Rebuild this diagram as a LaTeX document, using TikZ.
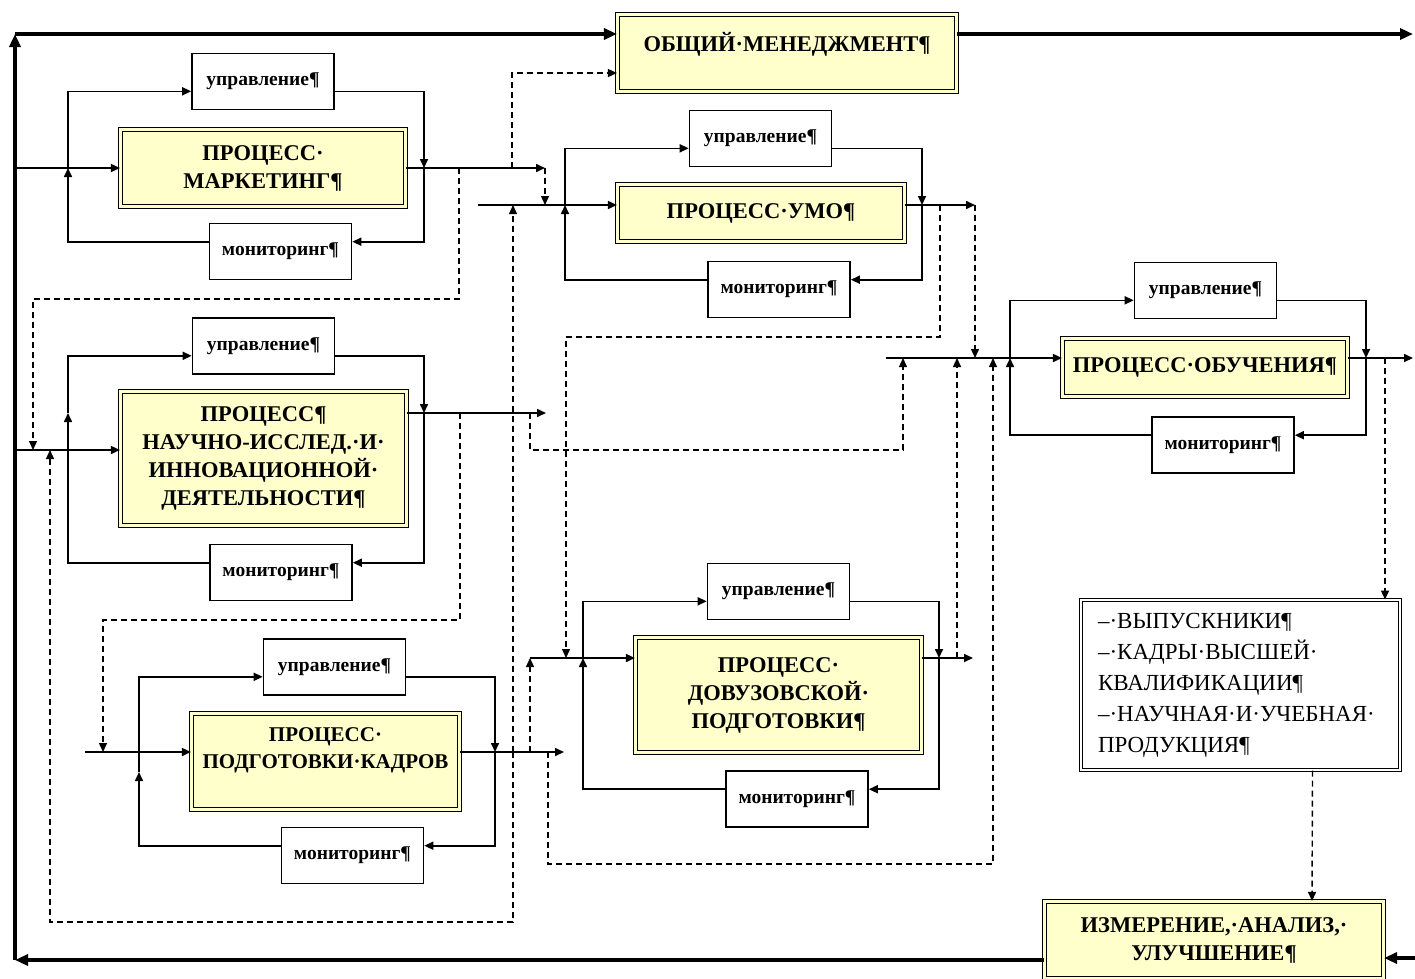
\documentclass[tikz,border=0pt]{standalone}
\usepackage{fontspec}
\setmainfont{Liberation Serif}
\usepackage{tikz}
\usetikzlibrary{arrows.meta, positioning, calc}
\definecolor{procfill}{RGB}{255,255,204}
\tikzstyle{process} = [rectangle, draw=black, line width=1.1pt, double=procfill, double distance=2.4pt, fill=procfill, align=center, inner sep=3pt, font=\fontsize{22.5}{28}\selectfont\bfseries]
\tikzstyle{ctrl} = [rectangle, draw=black, line width=1.6pt, fill=white, minimum width=142pt, minimum height=56pt, font=\fontsize{19.5}{22}\selectfont\bfseries]
\tikzstyle{result} = [rectangle, draw=black, line width=1pt, double=white, double distance=2pt, fill=white, align=left, text width=285pt, inner xsep=17pt, minimum height=170pt, font=\fontsize{23}{31}\selectfont]
\tikzstyle{flow} = [line width=1.6pt, -{Triangle[length=9pt, width=8pt]}]
\tikzstyle{dflow} = [line width=1.4pt, dash pattern=on 6pt off 4pt, -{Triangle[length=9pt, width=8pt]}]
\tikzstyle{frame} = [line width=4pt, -{Triangle[length=13pt, width=11pt]}]

\begin{document}
\begin{tikzpicture}[x=1pt, y=-1pt]
\useasboundingbox (0,0) rectangle (1415,978);
\coordinate (tl) at (15,34);
\coordinate (bl) at (15,960);
\coordinate (tr) at (1413,34);
\coordinate (br) at (1415,958);
\coordinate (in1) at (15,168);
\coordinate (in2) at (15,450);
\coordinate (in3) at (85,752);
\coordinate (in4) at (478,205);
\coordinate (in5) at (530,658);
\coordinate (in6) at (886,358);
\coordinate (out1) at (545,168);
\coordinate (out2) at (546,413);
\coordinate (out3) at (564,752);
\coordinate (out4) at (975,205);
\coordinate (out5) at (973,658);
\coordinate (out6) at (1413,358);
\coordinate (l1) at (68,168);
\coordinate (r1) at (424,168);
\coordinate (l2) at (68,413);
\coordinate (r2) at (424,413);
\coordinate (l3) at (139,772);
\coordinate (r3) at (495,752);
\coordinate (l4) at (565,205);
\coordinate (r4) at (922,205);
\coordinate (l5) at (583,658);
\coordinate (r5) at (939,658);
\coordinate (l6) at (1010,358);
\coordinate (r6) at (1366,358);

\node (gm) [process, minimum width=339pt, text height=34pt, text depth=37pt, inner ysep=3pt] at (787,53) {ОБЩИЙ·МЕНЕДЖМЕНТ¶};
\node (izm) [process, minimum width=339pt, minimum height=77pt] at (1214,940) {ИЗМЕРЕНИЕ,·АНАЛИЗ,·\\УЛУЧШЕНИЕ¶};
\node (p1) [process, minimum width=285pt, minimum height=77pt] at (263,168) {ПРОЦЕСС·\\МАРКЕТИНГ¶};
\node (p2) [process, minimum width=286pt, minimum height=134pt] at (263.5,458.5) {ПРОЦЕСС¶\\НАУЧНО-ИССЛЕД.·И·\\ИННОВАЦИОННОЙ·\\ДЕЯТЕЛЬНОСТИ¶};
\node (p3) [process, minimum width=268pt, minimum height=96pt, font=\fontsize{21}{27}\selectfont\bfseries] at (325.5,761.5) {ПРОЦЕСС·\\ПОДГОТОВКИ·КАДРОВ\\~};
\node (p4) [process, minimum width=287pt, minimum height=57pt] at (761,213) {ПРОЦЕСС·УМО¶};
\node (p5) [process, minimum width=286pt, minimum height=115pt] at (778.5,695) {ПРОЦЕСС·\\ДОВУЗОВСКОЙ·\\ПОДГОТОВКИ¶};
\node (p6) [process, minimum width=285pt, minimum height=58pt] at (1205,367.5) {ПРОЦЕСС·ОБУЧЕНИЯ¶};
\node (res) [result] at (1240.5,685) {–·ВЫПУСКНИКИ¶\\–·КАДРЫ·ВЫСШЕЙ·\\КВАЛИФИКАЦИИ¶\\–·НАУЧНАЯ·И·УЧЕБНАЯ·\\ПРОДУКЦИЯ¶};
\node (u1) [ctrl] at (263,81.5) {управление¶};
\node (m1) [ctrl] at (280.5,251.5) {мониторинг¶};
\node (u2) [ctrl] at (263.5,346) {управление¶};
\node (m2) [ctrl] at (281,572.5) {мониторинг¶};
\node (u3) [ctrl] at (334.5,667) {управление¶};
\node (m3) [ctrl] at (352.5,855.5) {мониторинг¶};
\node (u4) [ctrl] at (760.5,138.5) {управление¶};
\node (m4) [ctrl] at (779,289.5) {мониторинг¶};
\node (u5) [ctrl] at (778.5,591.5) {управление¶};
\node (m5) [ctrl] at (797,799) {мониторинг¶};
\node (u6) [ctrl] at (1205.5,290.5) {управление¶};
\node (m6) [ctrl] at (1223,445) {мониторинг¶};

\draw [frame] (bl) -- (tl);
\draw [frame] (tl) -- (tl -| gm.west);
\draw [frame] (tl -| gm.east) -- (tr);
\draw [frame] (bl -| izm.west) -- (bl);
\draw [frame] (br) -- (br -| izm.east);

\draw [flow] (in1) -- (in1 -| p1.west);
\draw [flow] (in1 -| p1.east) -- (out1);
\draw [flow] ([yshift=-19pt]m1.north west) -| (l1);
\draw [flow] (l1) |- ([yshift=19pt]u1.south west);
\draw [flow] ([yshift=19pt]u1.south east) -| (r1);
\draw [flow] (r1) |- ([yshift=-19pt]m1.north east);

\draw [flow] (in2) -- (in2 -| p2.west);
\draw [flow] (r2 -| p2.east) -- (out2);
\draw [flow] ([yshift=-19pt]m2.north west) -| (l2);
\draw [flow] (l2) |- ([yshift=19pt]u2.south west);
\draw [flow] ([yshift=19pt]u2.south east) -| (r2);
\draw [flow] (r2) |- ([yshift=-19pt]m2.north east);

\draw [flow] (in3) -- (in3 -| p3.west);
\draw [flow] (in3 -| p3.east) -- (out3);
\draw [flow] ([yshift=-19pt]m3.north west) -| (l3);
\draw [flow] (l3) |- ([yshift=19pt]u3.south west);
\draw [flow] ([yshift=19pt]u3.south east) -| (r3);
\draw [flow] (r3) |- ([yshift=-19pt]m3.north east);

\draw [flow] (in4) -- (in4 -| p4.west);
\draw [flow] (in4 -| p4.east) -- (out4);
\draw [flow] ([yshift=-19pt]m4.north west) -| (l4);
\draw [flow] (l4) |- ([yshift=19pt]u4.south west);
\draw [flow] ([yshift=19pt]u4.south east) -| (r4);
\draw [flow] (r4) |- ([yshift=-19pt]m4.north east);

\draw [flow] (in5) -- (in5 -| p5.west);
\draw [flow] (in5 -| p5.east) -- (out5);
\draw [flow] ([yshift=-19pt]m5.north west) -| (l5);
\draw [flow] (l5) |- ([yshift=19pt]u5.south west);
\draw [flow] ([yshift=19pt]u5.south east) -| (r5);
\draw [flow] (r5) |- ([yshift=-19pt]m5.north east);

\draw [flow] (in6) -- (in6 -| p6.west);
\draw [flow] (in6 -| p6.east) -- (out6);
\draw [flow] ([yshift=-19pt]m6.north west) -| (l6);
\draw [flow] (l6) |- ([yshift=19pt]u6.south west);
\draw [flow] ([yshift=19pt]u6.south east) -| (r6);
\draw [flow] (r6) |- ([yshift=-19pt]m6.north east);

\coordinate (j1a) at (512,168);
\coordinate (j1b) at (459,168);
\coordinate (j2a) at (33,450);
\coordinate (j2b) at (460,413);
\coordinate (j2c) at (530,413);
\coordinate (j2d) at (50,450);
\coordinate (j3a) at (103,752);
\coordinate (j3b) at (513,752);
\coordinate (j3c) at (530,752);
\coordinate (j3d) at (548,752);
\coordinate (j4b) at (513,205);
\coordinate (j4c) at (940,205);
\coordinate (j5a) at (566,658);
\coordinate (j5b) at (957,658);
\coordinate (j6a) at (903,358);
\coordinate (j6c) at (993,358);
\coordinate (j6d) at (957,358);
\coordinate (j6e) at (1385,358);
\draw [dflow] (j1a) |- ([yshift=-20pt]gm.west);
\draw [dflow] (out1) -- (out1 |- in4);
\draw [dflow] (j1b) |- (33,299) -- (j2a);
\draw [dflow] (j2b) |- (103,620) -- (j3a);
\draw [dflow] (j2c) |- (903,450) -- (j6a);
\draw [dflow] (j3b) |- (50,922) -- (j2d);
\draw [dflow] (j3b) -- (j4b);
\draw [dflow] (j3c) -- (in5);
\draw [dflow] (j3d) |- (993,864) -- (j6c);
\draw [dflow] (j4c) |- (566,337) -- (j5a);
\draw [dflow] (out4) -- (out4 |- in6);
\draw [dflow] (j5b) -- (j6d);
\draw [dflow] (j6e) -- (j6e |- res.north);
\draw [dflow] ([xshift=72pt]res.south) -- ([xshift=98pt]izm.north);
\end{tikzpicture}
\end{document}
